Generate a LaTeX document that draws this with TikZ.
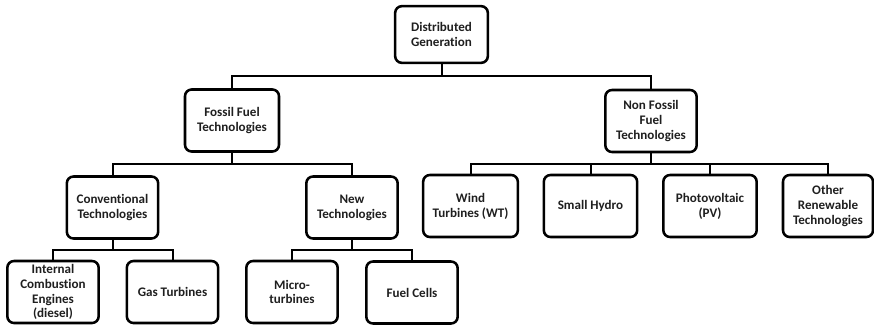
\documentclass[tikz,border=0pt]{standalone}
\usepackage{fontspec}
\setmainfont{Carlito}[Ligatures=NoCommon]
\usepackage{tikz}
\usetikzlibrary{calc}
\usetikzlibrary{positioning}
\tikzstyle{box}=[draw,rounded corners=5pt,line width=1.9pt,fill=white,align=center,inner sep=1pt,
  font=\fontsize{9.8}{11.1}\selectfont\bfseries,text=black!88]
\tikzstyle{branch}=[line width=1.5pt,to path={(\tikztostart.south) |- ($(\tikztostart.south)!0.5!(\tikztotarget.north)$) -| (\tikztotarget.north)}]

\begin{document}
\begin{tikzpicture}[x=0.75pt,y=-0.75pt]
\useasboundingbox (0,0) rectangle (874,326);
\tikzstyle{w}=[minimum width=68.5pt,minimum height=46.5pt]
% top level
\node [box,minimum width=69.5pt,minimum height=42.5pt] (dg) at (441.5,34.5) {Distributed\\Generation};
\node [box,w,minimum width=70.5pt] (ff) at (232,120.5) {Fossil Fuel\\Technologies};
\node [box,w] (nf) at (651,121) {Non Fossil\\Fuel\\Technologies};
% fossil side
\node [box,w] (conv) at (112.5,207.5) {Conventional\\Technologies};
\node [box,w] (newt) at (352,207.5) {New\\Technologies};
\node [box,w] (ice) at (53,292) {Internal\\Combustion\\Engines\\(diesel)};
\node [box,w] (gas) at (172.5,292) {Gas Turbines};
\node [box,w] (micro) at (292,292) {Micro-\\turbines};
\node [box,w] (fuel) at (412,292.5) {Fuel Cells};
% non fossil side
\node [box,w,minimum width=71pt] (wind) at (470.5,206) {Wind\\Turbines (WT)};
\node [box,w,minimum width=70pt] (hydro) at (590.5,206) {Small Hydro};
\node [box,w,minimum width=70pt] (pv) at (710,206) {Photovoltaic\\(PV)};
\node [box,w,minimum width=67.5pt] (other) at (828,206) {Other\\Renewable\\Technologies};

\draw [branch] (dg) to (ff) (dg) to (nf);
\draw [branch] (ff) to (conv) (ff) to (newt);
\draw [branch] (conv) to (ice) (conv) to (gas);
\draw [branch] (newt) to (micro) (newt) to (fuel);
\foreach \c in {wind,hydro,pv,other}
  \draw [branch] (nf) to (\c);
\end{tikzpicture}
\end{document}
